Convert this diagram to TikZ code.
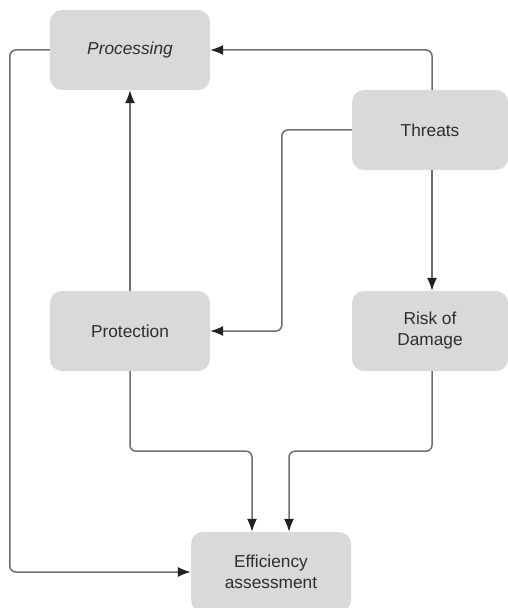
\documentclass[tikz,border=0pt]{standalone}
\usepackage{fontspec}
\setmainfont{Liberation Sans}
\usetikzlibrary{arrows.meta}
\definecolor{boxfill}{HTML}{D9D9D9}
\definecolor{txt}{HTML}{2E2E2E}
\definecolor{linec}{HTML}{6E6E6E}
\definecolor{tipc}{HTML}{222222}
\tikzset{
  blk/.style={draw=none, fill=boxfill, rounded corners=12bp, minimum width=160bp, minimum height=80bp,
    inner sep=0pt, align=center, text=txt, font=\fontsize{17.3bp}{21bp}\selectfont},
  conn/.style={draw=linec, line width=1.5bp, rounded corners=6bp,
    -{Latex[length=13bp,width=10bp,color=tipc]}}
}
\begin{document}
\begin{tikzpicture}[x=1bp,y=-1bp]
\useasboundingbox (0,0) rectangle (508,608);
\node[blk] (proc) at (130,50) {\itshape Processing};
\node[blk, minimum width=156bp] (thr) at (430,130) {Threats};
\node[blk] (prot) at (130,331) {Protection};
\node[blk, minimum width=156bp] (risk) at (430,331) {Risk of\\Damage};
\node[blk] (eff) at (271,572) {Efficiency\\assessment};

\draw[conn] ([xshift=2bp]thr.north) |- (proc.east);
\draw[conn] (thr.west) -- ++(-70,0) |- (prot.east);
\draw[conn] (prot.north) -- (proc.south);
\draw[conn] ([xshift=2bp]thr.south) -- ([xshift=2bp]risk.north);
\draw[conn] (proc.west) -- ++(-40,0) |- (eff.west);
\draw[conn] (prot.south) -- ++(0,80) -| ([xshift=-19bp]eff.north);
\draw[conn] ([xshift=2bp]risk.south) -- ++(0,80) -| ([xshift=18bp]eff.north);
\end{tikzpicture}
\end{document}
